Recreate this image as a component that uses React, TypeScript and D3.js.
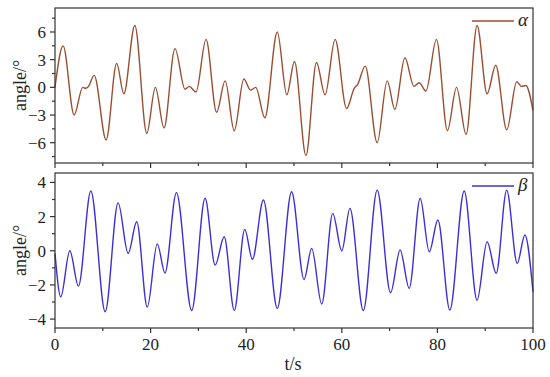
import React from "react";
import * as d3 from "d3";

// alpha series (extrema)
const alphaT = [0, 1.7, 4.0, 5.8, 6.4, 7.0, 8.2, 10.7, 12.9, 14.4, 16.7, 19.2, 21.0, 22.8, 25.1, 27.2, 28.1, 29.5, 31.6, 33.8, 35.6, 37.5, 39.5, 40.9, 42.0, 43.9, 46.5, 48.5, 50.1, 52.5, 54.7, 56.5, 58.6, 61.0, 62.6, 63.3, 64.9, 67.4, 69.5, 71.1, 73.2, 75.1, 76.2, 77.6, 79.8, 82.1, 84.0, 86.0, 88.3, 90.4, 92.2, 94.5, 96.6, 97.6, 98.5, 100];
const alphaV = [0, 4.5, -3.0, 0, -0.1, 0.1, 1.3, -5.7, 2.6, -0.7, 6.7, -5.0, 0, -4.4, 4.2, -0.2, 0.1, -0.5, 5.2, -2.7, 0.7, -4.7, 0.9, -0.3, 0, -3.3, 6.0, -0.8, 2.8, -7.4, 2.7, -0.8, 5.2, -2.3, -0.1, 0.3, 2.3, -6.0, 0.7, -2.4, 3.2, 0.1, 0.5, -0.4, 5.2, -4.7, 0, -5.1, 6.7, -0.7, 2.4, -4.6, 0.6, 0.1, 0.2, -2.5];

// beta series
const betaT = [0, 1.2, 3.1, 4.9, 7.5, 10.5, 13.2, 15.3, 17.1, 19.3, 21.4, 23.0, 25.4, 28.6, 31.4, 33.5, 35.4, 37.5, 39.7, 41.3, 43.6, 46.5, 49.5, 52.1, 53.7, 55.8, 58.1, 60.0, 61.7, 64.5, 67.4, 70.2, 72.2, 74.1, 76.4, 78.3, 80.1, 82.6, 85.6, 88.3, 90.4, 92.3, 94.5, 96.7, 98.3, 100];
const betaV = [-0.15, -2.7, 0, -2.07, 3.5, -3.57, 2.8, -0.15, 1.7, -3.3, 0.4, -1.3, 3.4, -3.5, 3.07, -0.84, 0.82, -3.5, 1.25, -0.5, 2.97, -3.37, 3.45, -1.68, 0.14, -3.12, 2.19, 0, 2.48, -3.5, 3.55, -2.46, 0.04, -2.2, 3.07, -0.06, 1.8, -3.47, 3.5, -2.89, 0.53, -1.32, 3.55, -0.74, 0.92, -2.4];

const xTicks = [0, 20, 40, 60, 80, 100];
const xMinor = [10, 30, 50, 70, 90];
const alphaTicks = [-6, -3, 0, 3, 6];
const alphaMinor = [-7.5, -4.5, -1.5, 1.5, 4.5, 7.5];
const betaTicks = [-4, -2, 0, 2, 4];
const betaMinor = [-3, -1, 1, 3];

const W = 550, H = 377;
const left = 55, right = 533;
const axisColor = "#333";

const x = d3.scaleLinear().domain([0, 100]).range([left, right]);
const fmt = (d: number) => (d < 0 ? "\u2212" + Math.abs(d) : String(d));

type PanelProps = {
  t: number[]; v: number[]; dom: [number, number]; top: number; bot: number;
  ticks: number[]; minor: number[]; color: string; sym: string; labels: boolean;
};

function Label(props: any) {
  const { size, italic, children, ...rest } = props;
  return (
    <text {...rest} fontFamily="Times New Roman" fill="#222"
      style={{ fontFamily: '"Times New Roman"', fontSize: size + "px", fontStyle: italic ? "italic" : "normal" }}>
      {children}
    </text>
  );
}

function Panel(p: PanelProps) {
  const y = d3.scaleLinear().domain(p.dom).range([p.bot, p.top]);
  const pts = p.t.map((t, i) => [t, p.v[i]] as [number, number]);
  const line = d3.line<[number, number]>()
    .x(d => x(d[0]))
    .y(d => y(d[1]))
    .curve(d3.curveMonotoneX);
  const ly = p.top + 13;

  return (
    <g>
      <path d={line(pts) || ""} fill="none" stroke={p.color} strokeWidth={1.4} />
      <rect x={left} y={p.top} width={right - left} height={p.bot - p.top}
        fill="none" stroke={axisColor} strokeWidth={1.2} />
      {xTicks.map(t => (
        <g key={"x" + t}>
          <line x1={x(t)} x2={x(t)} y1={p.bot} y2={p.bot + 5} stroke={axisColor} strokeWidth={1.2} />
          {p.labels && (
            <Label x={x(t)} y={p.bot + 22} textAnchor="middle" size={17}>{t}</Label>
          )}
        </g>
      ))}
      {xMinor.map(t => (
        <line key={"xm" + t} x1={x(t)} x2={x(t)} y1={p.bot} y2={p.bot + 3} stroke={axisColor} strokeWidth={1.2} />
      ))}
      {p.ticks.map(v => (
        <g key={"y" + v}>
          <line x1={left - 5} x2={left} y1={y(v)} y2={y(v)} stroke={axisColor} strokeWidth={1.2} />
          <Label x={left - 9} y={y(v)} dy="0.35em" textAnchor="end" size={17}>{fmt(v)}</Label>
        </g>
      ))}
      {p.minor.map(v => (
        <line key={"ym" + v} x1={left - 3} x2={left} y1={y(v)} y2={y(v)} stroke={axisColor} strokeWidth={1.2} />
      ))}
      <Label transform={`translate(20,${(p.top + p.bot) / 2}) rotate(-90)`} textAnchor="middle"
        dy="0.35em" size={18}>angle/°</Label>
      <line x1={472} x2={514} y1={ly} y2={ly} stroke={p.color} strokeWidth={1.4} />
      <Label x={518} y={ly + 5} size={19} italic>{p.sym}</Label>
    </g>
  );
}

export default function App() {
  return (
    <svg width={W} height={H}
      style={{ position: "absolute", left: 0, top: 0, background: "#fff" }}>
      <Panel t={alphaT} v={alphaV} dom={[-8.2, 8.6]} top={8} bot={163}
        ticks={alphaTicks} minor={alphaMinor} color="#9a4f32" sym="α" labels={false} />
      <Panel t={betaT} v={betaV} dom={[-4.52, 4.55]} top={173} bot={328}
        ticks={betaTicks} minor={betaMinor} color="#3b30d8" sym="β" labels={true} />
      <Label x={293} y={370} textAnchor="middle" size={18}>t/s</Label>
    </svg>
  );
}
